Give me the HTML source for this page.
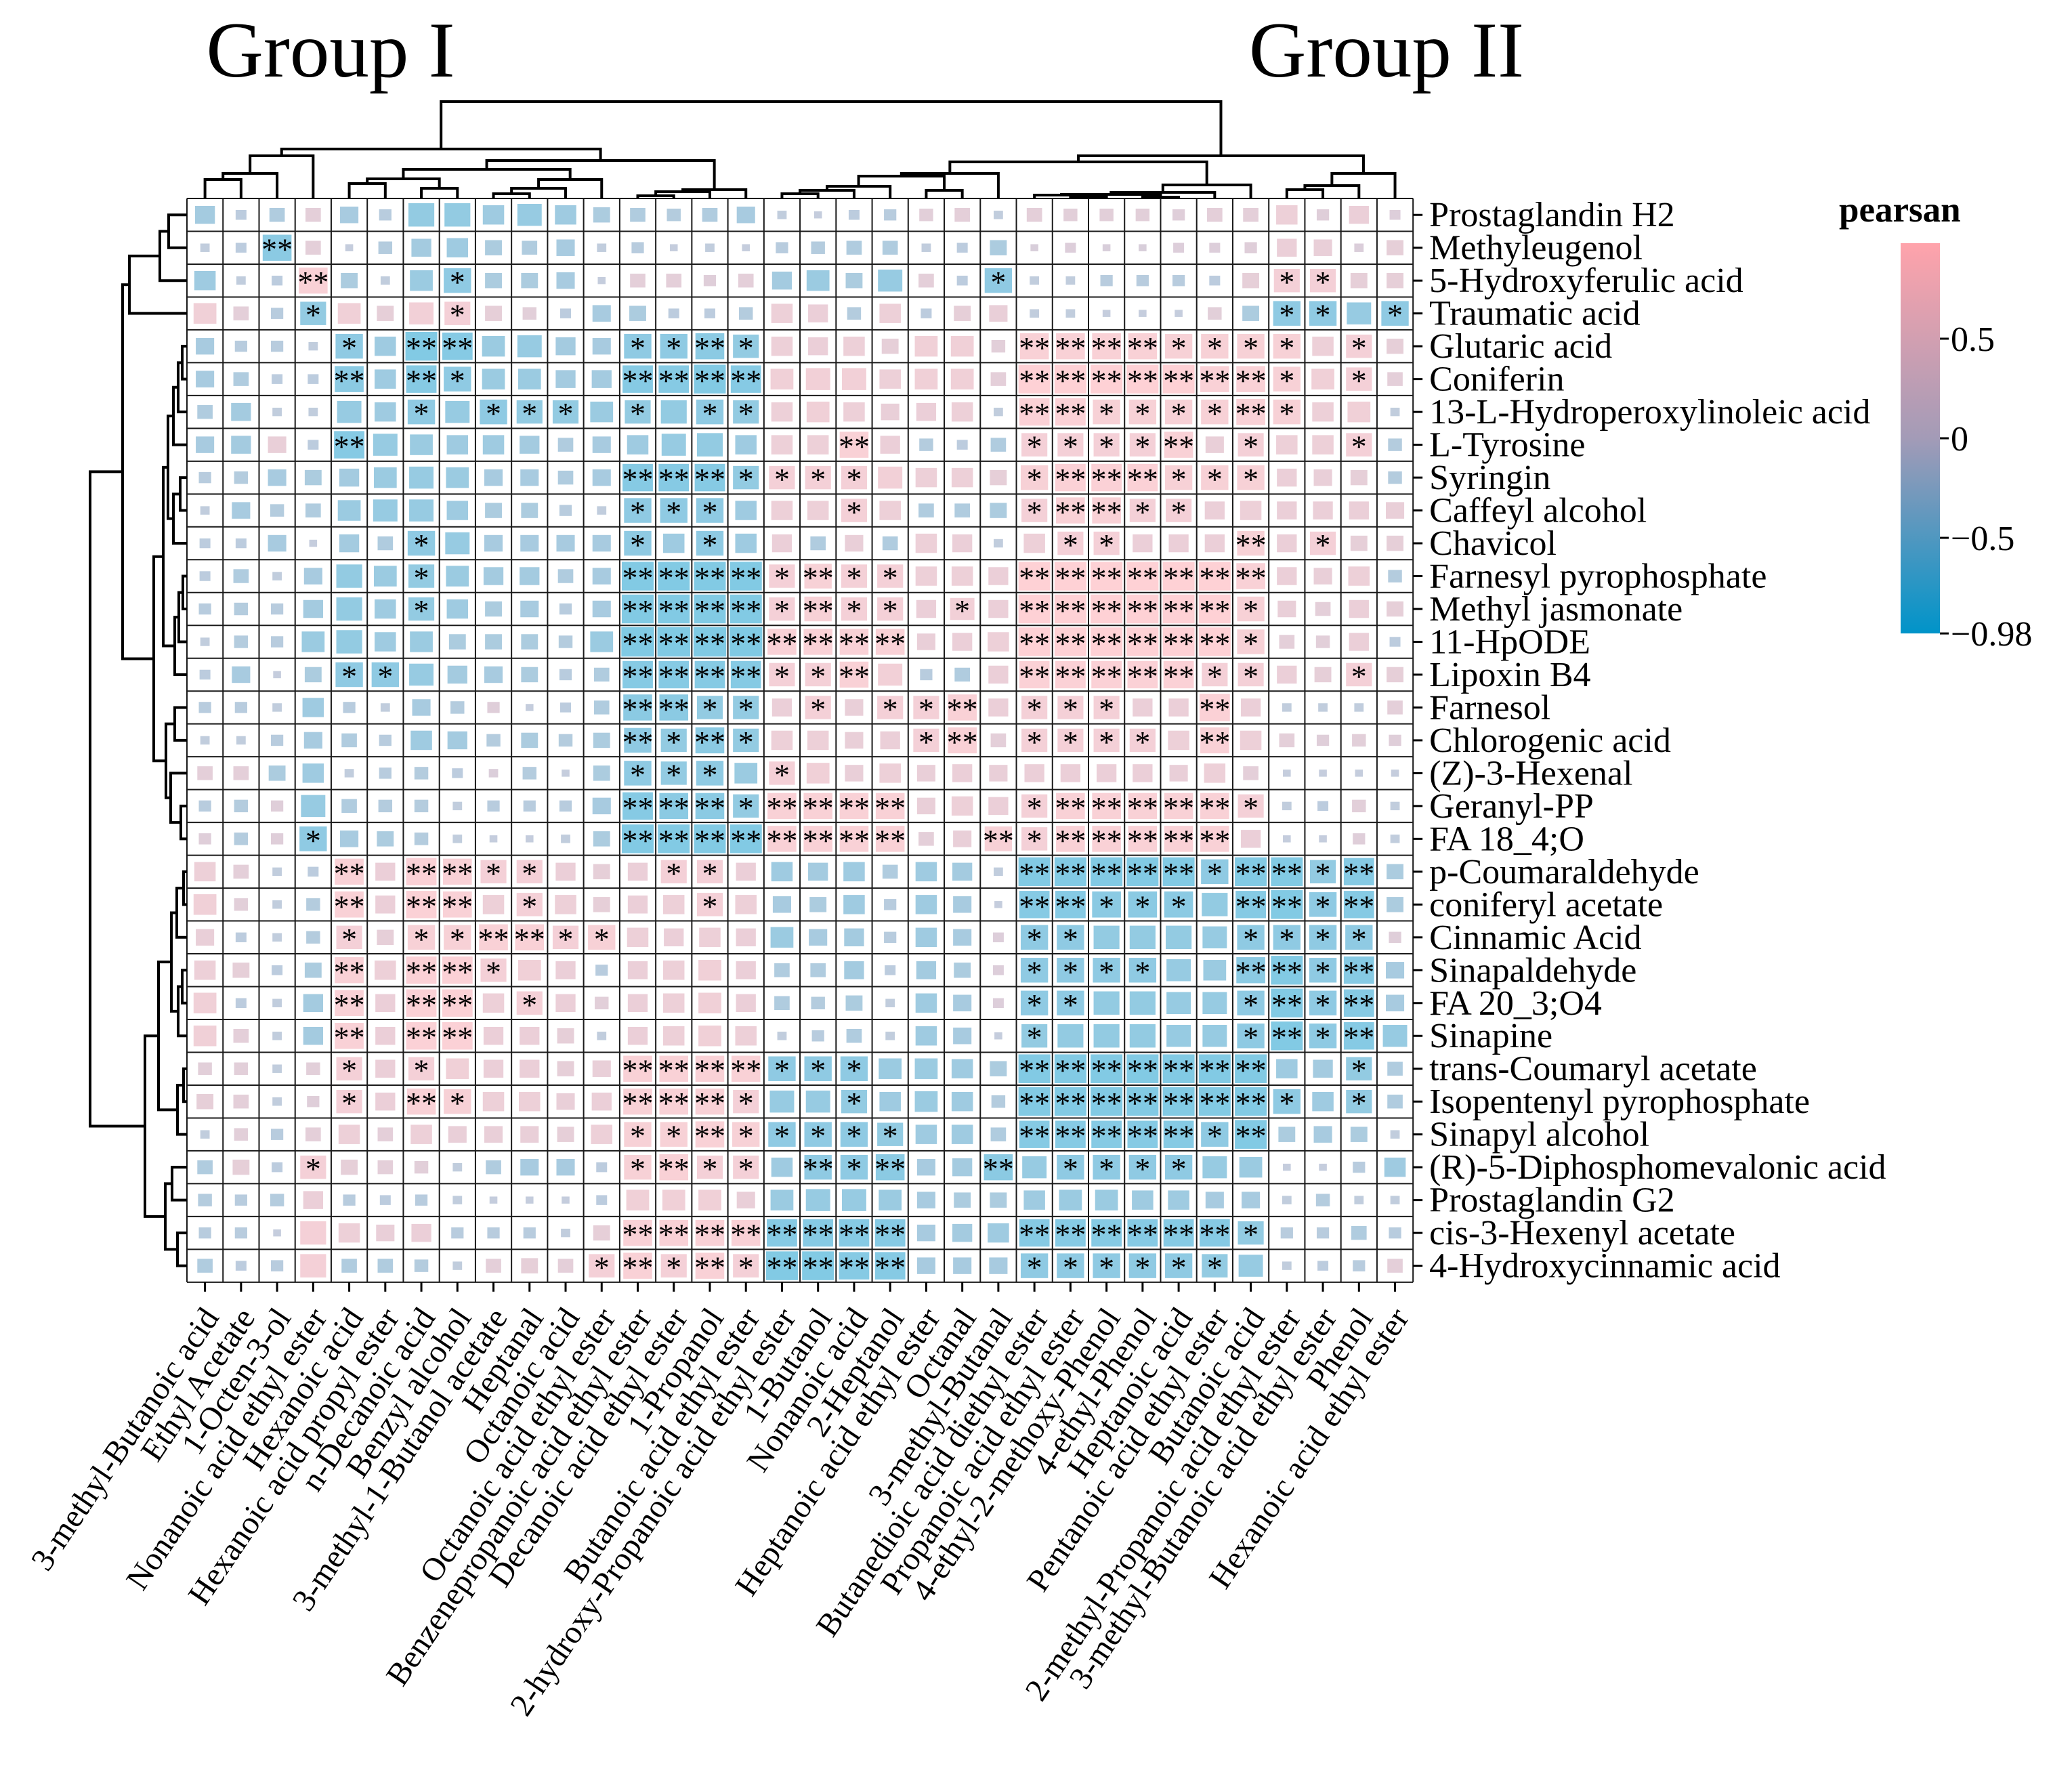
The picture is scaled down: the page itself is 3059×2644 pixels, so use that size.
<!DOCTYPE html>
<html><head><meta charset="utf-8"><style>
html,body{margin:0;padding:0;background:#fff;}
svg{display:block;}
text{font-family:"Liberation Serif",serif;fill:#000;}
</style></head><body>
<svg id="chart" width="3059" height="2644" viewBox="0 0 3059 2644" xmlns="http://www.w3.org/2000/svg">
<rect x="0" y="0" width="3059" height="2644" fill="#fff"/>
<text x="488" y="113" font-size="117" text-anchor="middle">Group I</text>
<text x="2047" y="113" font-size="117" text-anchor="middle">Group II</text>
<g id="cells"></g><g id="grid"></g><g id="stars"></g><g id="dendro"></g><g id="labels"></g><g id="legend"></g>
</svg>
<script>
const rowLabels=["Prostaglandin H2","Methyleugenol","5-Hydroxyferulic acid","Traumatic acid","Glutaric acid","Coniferin","13-L-Hydroperoxylinoleic acid","L-Tyrosine","Syringin","Caffeyl alcohol","Chavicol","Farnesyl pyrophosphate","Methyl jasmonate","11-HpODE","Lipoxin B4","Farnesol","Chlorogenic acid","(Z)-3-Hexenal","Geranyl-PP","FA 18_4;O","p-Coumaraldehyde","coniferyl acetate","Cinnamic Acid","Sinapaldehyde","FA 20_3;O4","Sinapine","trans-Coumaryl acetate","Isopentenyl pyrophosphate","Sinapyl alcohol","(R)-5-Diphosphomevalonic acid","Prostaglandin G2","cis-3-Hexenyl acetate","4-Hydroxycinnamic acid"];
const colLabels=["3-methyl-Butanoic acid","Ethyl Acetate","1-Octen-3-ol","Nonanoic acid ethyl ester","Hexanoic acid","Hexanoic acid propyl ester","n-Decanoic acid","Benzyl alcohol","3-methyl-1-Butanol acetate","Heptanal","Octanoic acid","Octanoic acid ethyl ester","Benzenepropanoic acid ethyl ester","Decanoic acid ethyl ester","1-Propanol","Butanoic acid ethyl ester","2-hydroxy-Propanoic acid ethyl ester","1-Butanol","Nonanoic acid","2-Heptanol","Heptanoic acid ethyl ester","Octanal","3-methyl-Butanal","Butanedioic acid diethyl ester","Propanoic acid ethyl ester","4-ethyl-2-methoxy-Phenol","4-ethyl-Phenol","Heptanoic acid","Pentanoic acid ethyl ester","Butanoic acid","2-methyl-Propanoic acid ethyl ester","3-methyl-Butanoic acid ethyl ester","Phenol","Hexanoic acid ethyl ester"];
const corr=[
[-0.55,-0.25,-0.4,0.4,-0.5,-0.3,-0.75,-0.75,-0.6,-0.7,-0.6,-0.45,-0.4,-0.35,-0.4,-0.5,-0.2,-0.15,-0.25,-0.3,0.35,0.4,-0.2,0.4,0.35,0.35,0.35,0.3,0.4,0.4,0.6,0.3,0.55,0.25],
[-0.2,-0.25,-0.85,0.4,-0.15,-0.35,-0.55,-0.6,-0.45,-0.4,-0.5,-0.2,-0.3,-0.15,-0.2,-0.15,-0.3,-0.35,-0.4,-0.4,-0.2,-0.25,-0.45,0.15,0.25,0.15,0.15,0.25,0.25,0.3,0.55,0.5,0.2,0.45],
[-0.6,-0.2,-0.25,0.85,-0.45,-0.2,-0.65,-0.8,-0.45,-0.45,-0.5,-0.15,0.4,0.4,0.3,0.4,-0.55,-0.65,-0.45,-0.7,0.4,-0.25,-0.8,-0.2,-0.2,-0.3,-0.3,-0.3,-0.25,0.45,0.75,0.75,0.45,0.45],
[0.65,0.4,-0.3,-0.75,0.65,0.45,0.7,0.75,0.45,0.35,-0.25,-0.5,-0.45,-0.25,-0.25,-0.35,0.6,0.55,-0.35,0.6,-0.25,0.45,0.5,-0.2,-0.2,-0.15,-0.15,-0.15,0.35,-0.45,-0.8,-0.8,-0.7,-0.8],
[-0.5,-0.3,-0.3,-0.2,-0.8,-0.6,-0.95,-0.9,-0.65,-0.7,-0.55,-0.5,-0.8,-0.8,-0.85,-0.75,0.6,0.55,0.6,0.45,0.65,0.65,0.35,0.85,0.85,0.85,0.85,0.8,0.8,0.8,0.8,0.6,0.75,0.45],
[-0.5,-0.4,-0.25,-0.25,-0.85,-0.6,-0.9,-0.8,-0.65,-0.65,-0.55,-0.55,-0.9,-0.9,-0.95,-0.9,0.65,0.7,0.7,0.6,0.65,0.65,0.4,0.95,0.95,0.95,0.95,0.95,0.85,0.85,0.8,0.65,0.75,0.4],
[-0.4,-0.55,-0.2,-0.2,-0.7,-0.6,-0.8,-0.7,-0.8,-0.75,-0.75,-0.65,-0.75,-0.75,-0.8,-0.75,0.6,0.65,0.6,0.5,0.55,0.6,-0.2,0.9,0.9,0.8,0.8,0.8,0.8,0.85,0.8,0.6,0.65,-0.2],
[-0.5,-0.55,0.5,-0.25,-0.9,-0.7,-0.65,-0.6,-0.6,-0.55,-0.4,-0.5,-0.6,-0.7,-0.75,-0.6,0.6,0.6,0.85,0.55,-0.35,-0.25,-0.4,0.75,0.75,0.75,0.75,0.85,0.5,0.75,0.6,0.6,0.75,-0.35],
[-0.3,-0.35,-0.5,-0.45,-0.55,-0.65,-0.7,-0.65,-0.5,-0.5,-0.4,-0.5,-0.9,-0.9,-0.9,-0.75,0.75,0.75,0.75,0.7,0.6,0.6,0.45,0.8,0.9,0.9,0.9,0.8,0.8,0.8,0.55,0.5,0.45,-0.35],
[-0.2,-0.5,-0.35,-0.4,-0.65,-0.7,-0.7,-0.6,-0.45,-0.45,-0.3,-0.2,-0.8,-0.8,-0.8,-0.6,0.6,0.6,0.75,0.6,-0.4,-0.4,-0.45,0.75,0.85,0.85,0.75,0.75,0.55,0.6,0.55,0.55,0.55,0.5],
[-0.25,-0.25,-0.5,-0.15,-0.55,-0.4,-0.8,-0.7,-0.5,-0.5,-0.5,-0.5,-0.8,-0.6,-0.8,-0.6,0.55,-0.4,0.5,-0.4,0.6,0.55,-0.2,0.6,0.75,0.75,0.55,0.55,0.55,0.8,0.55,0.75,0.45,0.45],
[-0.25,-0.4,-0.2,-0.5,-0.75,-0.65,-0.75,-0.65,-0.55,-0.55,-0.4,-0.5,-0.95,-0.95,-0.95,-0.95,0.75,0.8,0.75,0.75,0.6,0.6,0.55,0.95,0.95,0.95,0.95,0.95,0.95,0.85,0.55,0.5,0.6,-0.35],
[-0.3,-0.35,-0.3,-0.55,-0.75,-0.6,-0.75,-0.6,-0.45,-0.5,-0.3,-0.5,-0.95,-0.95,-0.95,-0.95,0.75,0.8,0.75,0.75,0.55,0.7,0.55,0.95,0.95,0.95,0.95,0.95,0.95,0.8,0.5,0.4,0.55,0.45],
[-0.2,-0.35,-0.3,-0.65,-0.75,-0.6,-0.65,-0.45,-0.45,-0.45,-0.35,-0.65,-0.98,-0.98,-0.98,-0.98,0.85,0.85,0.85,0.85,0.5,0.55,0.6,0.95,0.95,0.95,0.95,0.95,0.95,0.8,0.4,0.35,0.55,-0.25],
[-0.25,-0.5,-0.15,-0.45,-0.8,-0.8,-0.7,-0.55,-0.5,-0.45,-0.3,-0.4,-0.9,-0.9,-0.9,-0.9,0.75,0.75,0.85,0.7,-0.3,-0.4,0.55,0.9,0.9,0.9,0.9,0.9,0.75,0.75,0.55,0.45,0.75,0.45],
[-0.3,-0.3,-0.2,-0.6,-0.3,-0.2,-0.5,-0.35,0.3,-0.15,-0.25,-0.4,-0.85,-0.85,-0.75,-0.75,0.55,0.75,0.5,0.75,0.75,0.85,0.55,0.75,0.75,0.75,0.55,0.55,0.9,0.55,-0.2,-0.2,-0.2,0.4],
[-0.2,-0.2,-0.3,-0.5,-0.4,-0.3,-0.6,-0.55,-0.35,-0.45,-0.35,-0.45,-0.8,-0.75,-0.85,-0.75,0.6,0.6,0.5,0.55,0.75,0.85,0.4,0.75,0.75,0.75,0.75,0.6,0.85,0.6,0.4,0.3,0.35,0.3],
[0.4,0.4,-0.45,-0.6,-0.2,-0.3,-0.35,-0.25,0.2,-0.35,-0.15,-0.45,-0.8,-0.75,-0.8,-0.65,0.75,0.65,0.5,0.6,0.5,0.55,0.5,0.55,0.55,0.55,0.55,0.5,0.6,0.4,-0.15,-0.15,-0.15,-0.15],
[-0.3,-0.35,0.3,-0.7,-0.4,-0.35,-0.35,-0.2,-0.3,-0.3,-0.3,-0.5,-0.9,-0.85,-0.85,-0.75,0.85,0.85,0.85,0.85,0.5,0.6,0.55,0.75,0.85,0.85,0.85,0.85,0.85,0.75,-0.2,-0.25,0.35,-0.2],
[0.3,-0.35,0.3,-0.8,-0.5,-0.45,-0.35,-0.2,-0.15,-0.15,-0.2,-0.45,-0.95,-0.95,-0.95,-0.95,0.85,0.85,0.85,0.85,0.4,0.5,0.8,0.75,0.85,0.85,0.85,0.85,0.85,0.55,-0.15,-0.15,0.3,-0.2],
[0.6,0.4,-0.2,-0.25,0.85,0.55,0.9,0.85,0.75,0.75,0.55,0.45,0.55,0.75,0.75,0.55,-0.6,-0.55,-0.6,-0.4,-0.6,-0.55,-0.2,-0.95,-0.95,-0.95,-0.95,-0.95,-0.8,-0.95,-0.95,-0.75,-0.9,-0.45],
[0.65,0.35,-0.2,-0.35,0.85,0.55,0.9,0.85,0.6,0.75,0.6,0.45,0.55,0.6,0.75,0.6,-0.5,-0.45,-0.6,-0.3,-0.6,-0.5,-0.15,-0.9,-0.9,-0.85,-0.85,-0.85,-0.75,-0.9,-0.95,-0.8,-0.9,-0.45],
[0.5,-0.25,-0.2,-0.35,0.75,0.45,0.8,0.8,0.85,0.85,0.75,0.8,0.6,0.55,0.6,0.55,-0.65,-0.5,-0.55,-0.3,-0.6,-0.5,0.25,-0.8,-0.8,-0.75,-0.75,-0.75,-0.7,-0.8,-0.8,-0.8,-0.8,0.3],
[0.6,0.45,-0.25,-0.45,0.85,0.6,0.9,0.9,0.75,0.65,0.55,-0.3,0.55,0.6,0.65,0.55,-0.4,-0.4,-0.55,-0.25,-0.55,-0.45,0.25,-0.8,-0.8,-0.8,-0.8,-0.7,-0.65,-0.85,-0.95,-0.8,-0.9,-0.5],
[0.65,-0.25,-0.2,-0.55,0.85,0.55,0.9,0.9,0.6,0.75,0.55,0.35,0.55,0.6,0.65,0.55,-0.4,-0.35,-0.45,-0.2,-0.6,-0.5,0.25,-0.8,-0.8,-0.75,-0.75,-0.7,-0.7,-0.8,-0.95,-0.8,-0.9,-0.5],
[0.65,0.4,-0.2,-0.55,0.85,0.55,0.9,0.9,0.55,0.55,0.45,-0.2,0.55,0.6,0.65,0.6,-0.2,-0.3,-0.4,-0.2,-0.6,-0.5,-0.15,-0.75,-0.75,-0.75,-0.75,-0.7,-0.7,-0.8,-0.95,-0.8,-0.9,-0.7],
[0.35,0.35,-0.2,0.35,0.75,0.55,0.75,0.65,0.55,0.55,0.45,0.5,0.85,0.85,0.85,0.85,-0.8,-0.8,-0.8,-0.65,-0.65,-0.6,-0.45,-0.95,-0.95,-0.95,-0.95,-0.95,-0.95,-0.95,-0.6,-0.55,-0.75,-0.4],
[0.45,0.4,-0.2,0.3,0.75,0.55,0.85,0.8,0.6,0.6,0.5,0.55,0.85,0.85,0.85,0.75,-0.7,-0.7,-0.75,-0.6,-0.65,-0.6,-0.35,-0.95,-0.95,-0.95,-0.95,-0.95,-0.95,-0.95,-0.8,-0.6,-0.75,-0.4],
[-0.2,0.35,-0.3,0.4,0.6,0.4,0.6,0.5,0.5,0.5,0.45,0.6,0.8,0.8,0.85,0.8,-0.8,-0.8,-0.8,-0.75,-0.6,-0.6,-0.4,-0.9,-0.9,-0.9,-0.9,-0.9,-0.8,-0.95,-0.45,-0.5,-0.45,-0.2],
[-0.4,0.45,-0.25,0.75,0.45,0.4,0.35,-0.2,-0.4,-0.5,-0.5,-0.25,0.8,0.85,0.75,0.75,-0.6,-0.8,-0.8,-0.85,-0.5,-0.55,-0.85,-0.7,-0.8,-0.8,-0.8,-0.8,-0.7,-0.65,-0.15,-0.15,-0.3,-0.6],
[-0.35,-0.3,-0.35,0.55,-0.3,-0.25,-0.3,-0.2,-0.15,-0.15,-0.15,-0.25,0.65,0.65,0.65,0.5,-0.65,-0.7,-0.7,-0.65,-0.5,-0.45,-0.45,-0.6,-0.65,-0.65,-0.6,-0.6,-0.5,-0.5,-0.2,-0.35,-0.2,-0.2],
[-0.3,-0.3,-0.15,0.75,0.6,0.5,0.55,-0.3,-0.3,-0.3,-0.2,0.45,0.85,0.85,0.85,0.85,-0.9,-0.9,-0.9,-0.9,-0.5,-0.55,-0.6,-0.9,-0.9,-0.9,-0.9,-0.9,-0.9,-0.75,-0.3,-0.3,-0.4,-0.3],
[-0.4,-0.25,-0.3,0.75,-0.4,-0.4,-0.35,-0.2,0.4,0.45,0.4,0.75,0.85,0.75,0.85,0.75,-0.95,-0.95,-0.9,-0.9,-0.5,-0.5,-0.5,-0.8,-0.8,-0.8,-0.8,-0.8,-0.75,-0.7,-0.2,-0.25,-0.3,0.4]
];
const signif=[
"0000000000000000000000000000000000","0020000000000000000000000000000000",
"0002000100000000000000100000001100","0001000100000000000000000000001101",
"0000102200001121000000022221111010","0000202100002222000000022222221010",
"0000001011101011000000022111121000","0000200000000000002000011112010010",
"0000000000002221111000012221110000","0000000000001110001000012211000000",
"0000001000001010000000001100020100","0000001000002222121100022222220000",
"0000001000002222121101022222210000","0000000000002222222200022222210000",
"0000110000002222112000022222110010","0000000000002211010112011100200000",
"0000000000002121000012011110200000","0000000000001110100000000000000000",
"0000000000002221222200012222210000","0001000000002222222200212222200000",
"0000202211000110000000022222122120","0000202201000010000000022111022120",
"0000101122110000000000011000011110","0000202210000000000000011110022120",
"0000202201000000000000011000012120","0000202200000000000000010000012120",
"0000101000002222111000022222220010","0000102100002221001000022222221010",
"0000000000001121111100022222120000","0001000000001211021200201111000000",
"0000000000000000000000000000000000","0000000000002222222200022222210000",
"0000000000012121222200011111100000"
];
const colTree=[[[[[0,1,28],2,37],3,63],[[[[4,5,22],[6,7,15],29],[[[8,9,7],10,15],11,28],43],[[[12,13,4],14,10],15,13],56],73],
 [[[[[[[16,17,7],18,12],19,18],[20,21,12],33],22,37],[[[[[24,25,2],23,5],[26,27,2],6],28,9],29,20],54],[[[30,31,13],32,19],33,37],63],143];
const rowTree=[[[[[0,1,27],2,40],3,85],[[[[[[4,5,7],6,13],7,20],[[8,9,10],10,20],28],[[[11,12,6],13,12],14,18],35],[[15,16,18],[17,[18,19,9],24],31],49],95],
 [[[[[20,21,5],22,15],[[23,24,7],25,13],23],[[26,27,5],28,14],42],[[29,30,22],[31,32,14],32],62],143];
const legendTicks=[0.5,0,-0.5,-0.98];
const legendTickText=["0.5","0","\u22120.5","\u22120.98"];

const NS="http://www.w3.org/2000/svg";
const X0=276,Y0=293,CW=53.24,RH=48.48;
const nR=rowLabels.length,nC=colLabels.length;
const colX=j=>X0+(j+0.5)*CW, rowY=i=>Y0+(i+0.5)*RH;
const stops=[[-0.98,[0,148,201]],[0,[163,155,183]],[0.98,[255,163,171]]];
function cmap(v){v=Math.max(-0.98,Math.min(0.98,v));let a=stops[0],b=stops[1];if(v>0){a=stops[1];b=stops[2];}
 const t=(v-a[0])/(b[0]-a[0]);return a[1].map((c,k)=>Math.round(c+(b[1][k]-c)*t));}
function mk(tag,attrs,parent){const e=document.createElementNS(NS,tag);for(const k in attrs)e.setAttribute(k,attrs[k]);parent.appendChild(e);return e;}
const gCells=document.getElementById('cells'),gGrid=document.getElementById('grid'),gStars=document.getElementById('stars'),gD=document.getElementById('dendro'),gL=document.getElementById('labels'),gLeg=document.getElementById('legend');
for(let i=0;i<nR;i++)for(let j=0;j<nC;j++){
 const v=corr[i][j],m=0.1+0.9*Math.abs(v);const c=cmap(v).map(x=>Math.round(x*0.5+255*0.5));
 const w=m*(CW-4),h=m*(RH-4);
 const r=mk('rect',{x:colX(j)-w/2,y:rowY(i)-h/2,width:w,height:h,fill:`rgb(${c})`},gCells);
 
 
 const s=+signif[i][j];
 if(s>0){const t=mk('text',{x:colX(j),y:rowY(i)+18,'font-size':46,'text-anchor':'middle'},gStars);t.textContent=s===2?'**':'*';
  
  }
}
for(let i=0;i<=nR;i++){mk('line',{x1:X0,x2:X0+nC*CW,y1:Y0+i*RH,y2:Y0+i*RH,stroke:'#1a1a1a','stroke-width':2},gGrid);}
for(let j=0;j<=nC;j++){mk('line',{x1:X0+j*CW,x2:X0+j*CW,y1:Y0,y2:Y0+nR*RH,stroke:'#1a1a1a','stroke-width':2},gGrid);}


for(let i=0;i<nR;i++){
 mk('line',{x1:X0+nC*CW,x2:X0+nC*CW+14,y1:rowY(i),y2:rowY(i),stroke:'#000','stroke-width':3},gL);
 const t=mk('text',{x:X0+nC*CW+24,y:rowY(i)+17,'font-size':52},gL);t.textContent=rowLabels[i];
 
 
}
for(let j=0;j<nC;j++){
 mk('line',{x1:colX(j),x2:colX(j),y1:Y0+nR*RH,y2:Y0+nR*RH+14,stroke:'#000','stroke-width':3},gL);
 const ax=colX(j)+22,ay=1945;
 const t=mk('text',{x:ax,y:ay,'font-size':48,'text-anchor':'end',transform:`rotate(-56 ${ax} ${ay})`},gL);t.textContent=colLabels[j];
 
 
}
function drawTree(node,orient){
 if(typeof node==='number')return {p:orient==='top'?colX(node):rowY(node),h:0};
 const a=drawTree(node[0],orient),b=drawTree(node[1],orient),h=node[2];
 let d;
 if(orient==='top'){const y=v=>Y0-v;d=`M${a.p},${y(a.h)}V${y(h)}H${b.p}V${y(b.h)}`;}
 else{const x=v=>X0-v;d=`M${x(a.h)},${a.p}H${x(h)}V${b.p}H${x(b.h)}`;}
 const p=mk('path',{d:d,fill:'none',stroke:'#000','stroke-width':4},gD);
 
 
 return {p:(a.p+b.p)/2,h:h};
}
drawTree(colTree,'top');drawTree(rowTree,'left');
const LX=2806,LW=58,ly=v=>647-v*294;
const defs=mk('defs',{},gLeg);const lg=mk('linearGradient',{id:'lg',x1:0,y1:0,x2:0,y2:1},defs);
[0.98,0,-0.98].forEach(s=>{const off=(ly(s)-ly(0.98))/(ly(-0.98)-ly(0.98));mk('stop',{offset:off,'stop-color':`rgb(${cmap(s)})`},lg);});
const bar=mk('rect',{x:LX,y:ly(0.98),width:LW,height:ly(-0.98)-ly(0.98),fill:'url(#lg)'},gLeg);


const lt=mk('text',{x:2715,y:327,'font-size':53,'font-weight':'bold'},gLeg);lt.textContent='pearsan';


legendTicks.forEach((v,k)=>{mk('line',{x1:LX+LW,x2:LX+LW+13,y1:ly(v),y2:ly(v),stroke:'#000','stroke-width':3},gLeg);
 const t=mk('text',{x:LX+LW+16,y:ly(v)+18,'font-size':52},gLeg);t.textContent=legendTickText[k];
 
 });
</script>
</body></html>
